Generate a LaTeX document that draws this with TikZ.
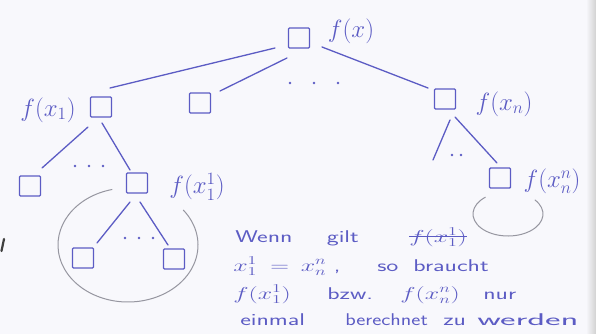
\documentclass[tikz,border=0pt]{standalone}
\usepackage{fontspec}
\usepackage{graphicx}
\usetikzlibrary{calc}
\definecolor{ink}{RGB}{92,92,196}
\definecolor{pencil}{RGB}{150,150,160}
\definecolor{paper}{RGB}{248,248,252}
\newcommand\crossout[1]{\setbox0\hbox{#1}\rlap{\raisebox{0.3em}{\rule{\wd0}{0.9pt}}}\box0}
\newcommand\notemath[1]{{\fontsize{17}{19}\selectfont$#1$}}
\tikzset{
  box/.style={draw=ink, line width=1.4pt, minimum width=21pt, minimum height=20pt, inner sep=0pt, rounded corners=1pt},
  lab/.style={text=ink, inner sep=0pt, scale=1.2, font=\fontsize{21}{23}\selectfont},
  edge/.style={draw=ink, line width=1.3pt, line cap=round},
  ring/.style={draw=pencil, line width=1pt},
  note/.style={text=ink, inner sep=0pt, anchor=base west, xscale=1.5, font=\sffamily\fontsize{17}{20}\selectfont},
  dotmark/.style={fill=ink}
}
\begin{document}
\begin{tikzpicture}[x=1pt,y=-1pt]
  % sheet
  \fill[paper] (0,0) rectangle (596,334);
  \useasboundingbox (0,0) rectangle (596,334);
  \shade[left color=paper, right color=black!18] (586,0) rectangle (596,334);
  \draw[black!75, line width=2.2pt, line cap=round] (4,239) -- (1.5,251);

  % tree nodes
  \node[box] (root) at (299,38) {};
  \node[box] (c1)   at (101,107) {};
  \node[box] (c2)   at (200,103) {};
  \node[box] (cn)   at (445,99) {};
  \node[box] (l1)   at (30,186) {};
  \node[box] (l11)  at (137,183) {};
  \node[box] (lnn)  at (500,178) {};
  \node[box] (a)    at (83,258) {};
  \node[box] (b)    at (174,259) {};
  \coordinate (cnl) at (433,160);

  % labels
  \node[lab] (troot) at (351,31)  {$f(x)$};
  \node[lab] (tc1)   at (48,110)  {$f(x_1)$};
  \node[lab] (tl11)  at (197,187) {$f(x_1^1)$};
  \node[lab] (tcn)   at (504,104) {$f(x_n)$};
  \node[lab] (tlnn)  at (552,181) {$f(x_n^n)$};

  % connectors
  \draw[edge] ($(root)+(-24,10)$) -- ($(c1)+(9,-19)$);
  \draw[edge] ($(root)+(-12,20)$) -- ($(c2)+(20,-12)$);
  \draw[edge] ($(root)+(23,9)$)   -- ($(cn)+(-17,-11)$);
  \draw[edge] ($(c1)+(-13,20)$)   -- ($(l1)+(12,-18)$);
  \draw[edge] ($(c1)+(1,16)$)     -- ($(l11)+(-7,-13)$);
  \draw[edge] ($(cn)+(5,21)$)     -- (cnl);
  \draw[edge] ($(cn)+(10,18)$)    -- ($(lnn)+(-3,-15)$);
  \draw[edge] ($(l11)+(-7,19)$)   -- ($(a)+(14,-15)$);
  \draw[edge] ($(l11)+(3,19)$)    -- ($(b)+(-6,-14)$);

  % omitted siblings
  \foreach \x in {290,314,338} \fill[dotmark] (\x,83) circle (1.3);
  \foreach \x in {75,89,103}   \fill[dotmark] (\x,166) circle (1.3);
  \foreach \x in {125,139,153} \fill[dotmark] (\x,238) circle (1.3);
  \foreach \x in {452,461}     \fill[dotmark] (\x,155) circle (1.3);

  % pencil loops around the shared subtrees (open at the top)
  \draw[ring] (128,245) ++(-103:70 and 57) arc[start angle=-103, end angle=-398, x radius=70, y radius=57];
  \draw[ring] (508,214) ++(-130:35 and 22) arc[start angle=-130, end angle=-400, x radius=35, y radius=22];

  % note
  \node[note] (n1) at (235,242) {\makebox[61pt][l]{Wenn}\makebox[55pt][l]{gilt}\crossout{\notemath{f(x_1^1)}}};
  \node[note] (n2) at (233,271) {\makebox[25pt][l]{\notemath{x_1^1}}\makebox[12pt][c]{\notemath{=}}\hspace{8pt}\makebox[51pt][l]{\notemath{x_n^n}\hspace{5pt},}\makebox[24pt][l]{so}braucht};
  \node[note] (n3) at (233,299) {\makebox[62.7pt][l]{\notemath{f(x_1^1)}}\makebox[48.7pt][l]{bzw.}\makebox[55.3pt][l]{\notemath{f(x_n^n)}}nur};
  \node[note] (n4) at (240,325) {\makebox[70pt][l]{einmal}\makebox[65.3pt][l]{\scalebox{0.85}[1]{berechnet}}\makebox[22.7pt][l]{zu}\scalebox{1.45}[1]{werden}};
\end{tikzpicture}
\end{document}
